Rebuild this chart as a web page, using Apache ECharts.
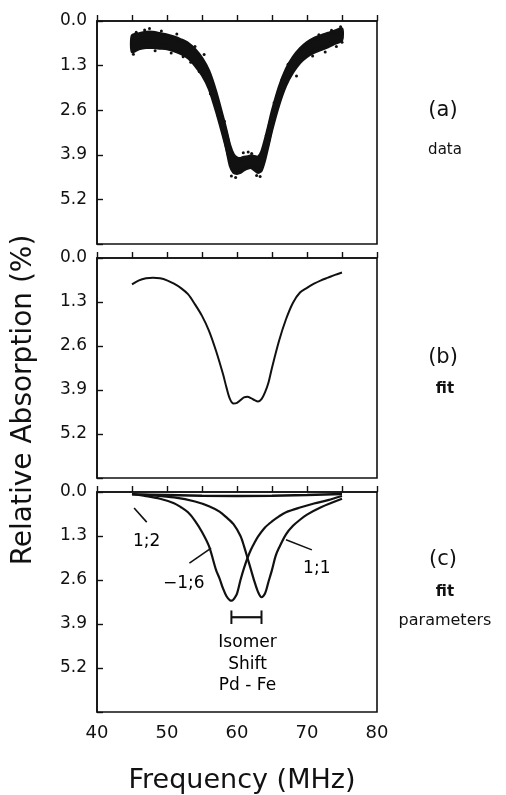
<!DOCTYPE html>
<html>
<head>
<meta charset="utf-8">
<script src="https://cdn.jsdelivr.net/npm/echarts@6/dist/echarts.min.js"></script>
<style>
html,body{margin:0;padding:0;background:#fff;}
#chart{width:506px;height:795px;}
</style>
</head>
<body>
<div id="chart"></div>
<script>
// ---------- data ----------
// Panel (a): measured data band (upper and lower edge of the noisy band)
var freqA   = [45,46,47,48,49,50,51,52,53,54,55,56,57,58,58.5,59,59.5,60,60.5,61,61.5,62,62.5,63,63.5,64,64.5,65,66,67,68,69,70,71,72,73,74,75];
var bandTopA = [0.42,0.36,0.32,0.32,0.36,0.40,0.46,0.54,0.64,0.82,1.08,1.45,2.05,2.80,3.20,3.62,3.88,3.98,4.00,3.96,3.95,3.92,3.94,3.96,3.80,3.45,3.05,2.62,1.92,1.40,1.05,0.80,0.62,0.50,0.42,0.35,0.28,0.22];
var bandBotA = [0.90,0.82,0.78,0.78,0.80,0.82,0.88,0.96,1.08,1.30,1.58,1.98,2.62,3.35,3.75,4.22,4.42,4.45,4.42,4.35,4.30,4.28,4.35,4.42,4.36,4.05,3.62,3.18,2.45,1.88,1.50,1.22,1.04,0.92,0.84,0.76,0.66,0.56];
// scattered outlying data points of panel (a)
var strayA = [[45.2,0.97],[45.6,0.33],[46.8,0.26],[47.5,0.22],[48.3,0.87],[49.2,0.29],[50.6,0.93],[51.4,0.38],[52.3,1.04],[53.4,1.20],[54.0,0.74],[54.6,1.47],[55.3,0.98],[56.2,2.12],[57.3,2.76],[58.2,2.92],[59.2,4.52],[59.8,4.56],[60.9,3.84],[61.6,3.82],[62.1,3.86],[62.8,4.50],[63.3,4.53],[64.2,3.33],[65.3,2.38],[66.4,1.72],[67.3,1.26],[68.5,1.60],[69.6,0.72],[70.8,1.02],[71.7,0.40],[72.6,0.90],[73.5,0.27],[74.2,0.74],[74.8,0.17],[75.0,0.62]];

// Panel (b): fit
var freqB = [45,46,47,48,49,50,51,52,53,54,55,56,57,58,58.5,59,59.5,60,60.5,61,61.5,62,62.5,63,63.5,64,64.5,65,66,67,68,69,70,71,72,73,74,75];
var fitB  = [0.78,0.66,0.60,0.58,0.60,0.66,0.76,0.89,1.07,1.37,1.71,2.15,2.74,3.43,3.83,4.17,4.30,4.28,4.20,4.12,4.10,4.14,4.20,4.24,4.17,3.97,3.68,3.24,2.45,1.81,1.32,1.02,0.88,0.76,0.66,0.58,0.50,0.43];

// Panel (c): fit parameters (three components)
var freqC16 = [45,47,49,51,52,53,54,55,56,57,57.5,58,58.5,59,59.3,59.6,60,60.5,61,61.5,62,62.5,63,64,65,66,67,69,71,73,75];
var comp16  = [0.06,0.12,0.20,0.33,0.45,0.60,0.85,1.18,1.60,2.30,2.55,2.85,3.08,3.20,3.21,3.15,3.00,2.60,2.25,1.95,1.70,1.50,1.32,1.05,0.87,0.72,0.60,0.46,0.34,0.24,0.12];
var freqC11 = [45,48,51,54,56,57.5,58.5,59.5,60.5,61,61.5,62,62.5,63,63.5,64,64.5,65,65.5,66,67,68,69,70,72,75];
var comp11  = [0.06,0.10,0.16,0.28,0.42,0.58,0.75,0.95,1.30,1.60,1.95,2.30,2.65,2.95,3.11,3.00,2.65,2.30,1.90,1.65,1.25,1.00,0.82,0.67,0.45,0.20];
var freqC12 = [45,50,55,60,65,70,75];
var comp12  = [0.07,0.09,0.11,0.12,0.11,0.09,0.06];

// annotations of panel (c)
var compLabels = [{text:'1;2', f:47.1, v:1.46},{text:'\u22121;6', f:52.4, v:2.70},{text:'1;1', f:71.4, v:2.25}];
var pointers   = [[[45.3,0.47],[47.1,0.89]],[[53.2,2.10],[56.3,1.66]],[[67.0,1.41],[70.7,1.71]]];
var isomerShift = {from:59.2, to:63.5, v:3.70, capTop:3.50, capBot:3.90};
var isomerText = [{text:'Isomer', f:61.5, v:4.45},{text:'Shift', f:61.5, v:5.10},{text:'Pd - Fe', f:61.5, v:5.72}];

var xTicks = {min:40, max:80, step:5};
var yTicks = {min:0, max:6.5, step:1.3};
var panelTags = [
  {big:'(a)', small:'data', y1:111, y2:150},
  {big:'(b)', small:'fit', y1:358, y2:389},
  {big:'(c)', small:'fit', y1:560, y2:592, extra:'parameters', y3:621}
];

// ---------- chart ----------
var FONT = '"DejaVu Sans", sans-serif';
var INK = '#111';
var grids = [
  {left:97, top:21,  width:280, height:223},
  {left:97, top:258, width:280, height:220},
  {left:97, top:492, width:280, height:220}
];
grids.forEach(function(g){ g.show = true; g.borderColor = INK; g.borderWidth = 1.6; g.backgroundColor = 'transparent'; });

function xAxis(i, labels){
  return {
    type:'value', gridIndex:i, min:xTicks.min, max:xTicks.max, interval:xTicks.step,
    axisLine:{show:true, lineStyle:{color:INK, width:1.6}},
    axisTick:{show:true, inside:true, length:6, lineStyle:{color:INK, width:1.4}},
    splitLine:{show:false},
    axisLabel:{show:labels, margin:12, color:INK, fontFamily:FONT, fontSize:18,
      formatter:function(v){ return (v % 10 === 0) ? String(v) : ''; }}
  };
}
function yAxis(i){
  return {
    type:'value', gridIndex:i, inverse:true, min:yTicks.min, max:yTicks.max, interval:yTicks.step,
    axisLine:{show:true, lineStyle:{color:INK, width:1.6}},
    axisTick:{show:true, inside:true, length:6, lineStyle:{color:INK, width:1.4}},
    splitLine:{show:false},
    axisLabel:{show:true, margin:10, color:INK, fontFamily:FONT, fontSize:17,
      formatter:function(v){ return v > 6 ? '' : v.toFixed(1); }}
  };
}
function pairs(xs, ys){ return xs.map(function(x,k){ return [x, ys[k]]; }); }
function lineSeries(i, data, w, extra){
  var s = {type:'line', xAxisIndex:i, yAxisIndex:i, data:data, showSymbol:false, symbol:'none',
    smooth:0.3, lineStyle:{color:INK, width:w}, silent:true, animation:false, z:3};
  if (extra) for (var k in extra) s[k] = extra[k];
  return s;
}

var series = [];
// Panel (a): noisy band drawn as a filled polygon between its two edges
series.push({
  type:'custom', xAxisIndex:0, yAxisIndex:0, silent:true, animation:false,
  data:[[freqA[0], bandTopA[0]]],
  renderItem:function(params, api){
    var pts = [];
    for (var k = 0; k < freqA.length; k++) pts.push(api.coord([freqA[k], bandTopA[k]]));
    for (var k2 = freqA.length - 1; k2 >= 0; k2--) pts.push(api.coord([freqA[k2], bandBotA[k2]]));
    return {type:'polygon', shape:{points:pts, smooth:0.25},
      style:{fill:INK, stroke:INK, lineWidth:2.5}};
  }
});
series.push(lineSeries(0, freqA.map(function(f,k){ return [f, (bandTopA[k]+bandBotA[k])/2]; }), 6));
series.push({type:'scatter', xAxisIndex:0, yAxisIndex:0, data:strayA, symbolSize:3,
  itemStyle:{color:INK, opacity:1}, animation:false, silent:true});
// Panel (b)
series.push(lineSeries(1, pairs(freqB, fitB), 2));
// Panel (c)
series.push(lineSeries(2, pairs(freqC16, comp16), 2.2));
series.push(lineSeries(2, pairs(freqC11, comp11), 2.2));
series.push(lineSeries(2, pairs(freqC12, comp12), 2.4, {smooth:false}));
pointers.forEach(function(p){ series.push(lineSeries(2, p, 1.6, {smooth:false})); });
series.push(lineSeries(2, [[isomerShift.from, isomerShift.v],[isomerShift.to, isomerShift.v]], 2.2, {smooth:false}));
series.push(lineSeries(2, [[isomerShift.from, isomerShift.capTop],[isomerShift.from, isomerShift.capBot]], 2, {smooth:false}));
series.push(lineSeries(2, [[isomerShift.to, isomerShift.capTop],[isomerShift.to, isomerShift.capBot]], 2, {smooth:false}));
series.push({type:'scatter', xAxisIndex:2, yAxisIndex:2, symbolSize:1, animation:false, silent:true,
  itemStyle:{opacity:0},
  data: compLabels.concat(isomerText).map(function(t){
    return {value:[t.f, t.v], label:{show:true, position:'inside', formatter:t.text, opacity:1,
      color:'#000', fontFamily:FONT, fontSize:17, textBorderWidth:0}};
  })});

var graphics = [];
panelTags.forEach(function(t){
  graphics.push({type:'text', x:443, y:t.y1, style:{text:t.big, fill:INK, font:'21px ' + FONT, textAlign:'center', textVerticalAlign:'middle'}});
  graphics.push({type:'text', x:445, y:t.y2, style:{text:t.small, fill:INK, font:(t.small==='fit'?'bold ':'') + '15px ' + FONT, textAlign:'center', textVerticalAlign:'middle'}});
  if (t.extra) graphics.push({type:'text', x:445, y:t.y3, style:{text:t.extra, fill:INK, font:'16px ' + FONT, textAlign:'center', textVerticalAlign:'middle'}});
});
graphics.push({type:'text', x:24, y:400, rotation:Math.PI/2,
  style:{text:'Relative Absorption (%)', fill:INK, font:'28px ' + FONT, textAlign:'center', textVerticalAlign:'middle'}});
graphics.push({type:'text', x:242, y:781,
  style:{text:'Frequency (MHz)', fill:INK, font:'27px ' + FONT, textAlign:'center', textVerticalAlign:'middle'}});

var chart = echarts.init(document.getElementById('chart'), null, {renderer:'canvas'});
chart.setOption({
  backgroundColor:'#fff',
  animation:false,
  grid:grids,
  xAxis:[xAxis(0,false), xAxis(1,false), xAxis(2,true)],
  yAxis:[yAxis(0), yAxis(1), yAxis(2)],
  series:series,
  graphic:graphics
});
</script>
</body>
</html>
